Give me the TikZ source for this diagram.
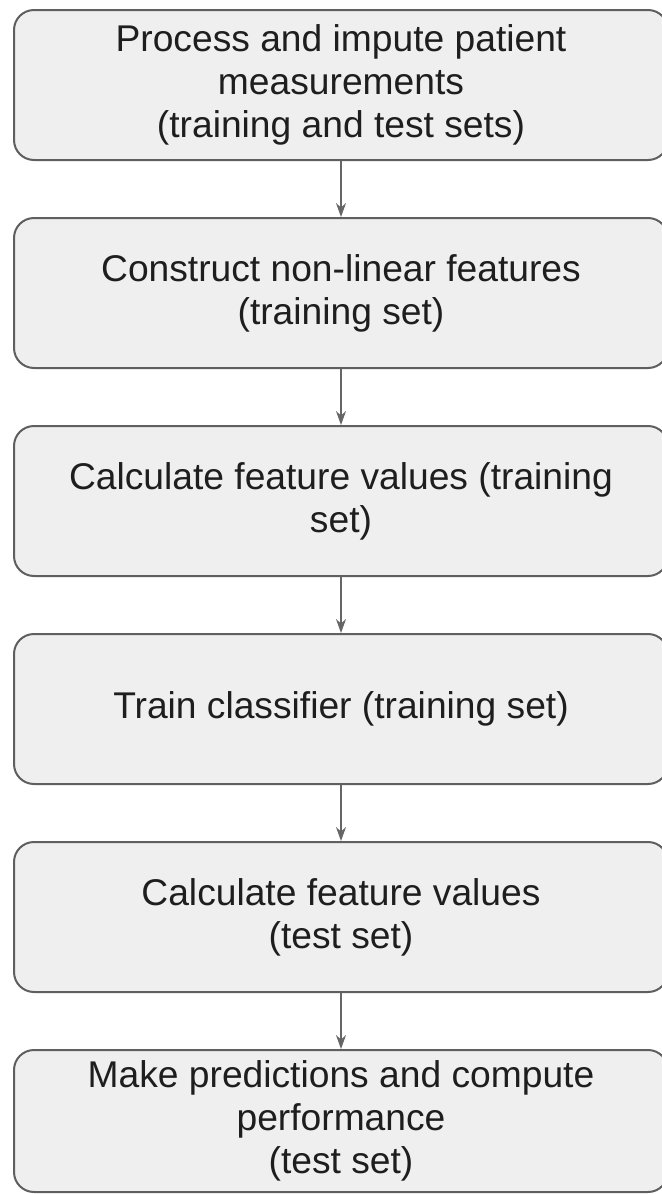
\documentclass[tikz,border=0pt]{standalone}
\usepackage{fontspec}
\setmainfont{Liberation Sans}
\usetikzlibrary{arrows.meta}
\definecolor{boxfill}{HTML}{EFEFEF}
\definecolor{boxline}{HTML}{5F5F5F}
\definecolor{arrowline}{HTML}{666666}
\definecolor{textcol}{HTML}{1E1E1E}

\begin{document}
\begin{tikzpicture}[x=0.5pt,y=-0.5pt,
  stagebox/.style={draw=boxline,fill=boxfill,line width=1pt,rounded corners=10pt,
    minimum width=327pt,minimum height=75pt,align=center,text=textcol,
    font=\fontsize{18.6}{21.5}\selectfont,inner sep=0pt},
  flow/.style={draw=arrowline,line width=0.6pt,-{Stealth[length=7pt,width=5pt]}}]
\useasboundingbox (0,0) rectangle (661,1194);

\node[stagebox] (process) at (341,85) {Process and impute patient\\measurements\\(training and test sets)};
\node[stagebox] (construct) at (341,293) {Construct non-linear features\\(training set)};
\node[stagebox] (calctrain) at (341,501) {Calculate feature values (training\\set)};
\node[stagebox] (train) at (341,709) {Train classifier (training set)};
\node[stagebox] (calctest) at (341,917) {Calculate feature values\\(test set)};
\node[stagebox,minimum height=71pt] (predict) at (341,1121) {Make predictions and compute\\performance\\(test set)};

% arrows between stages
\draw[flow] (process) -- (construct);
\draw[flow] (construct) -- (calctrain);
\draw[flow] (calctrain) -- (train);
\draw[flow] (train) -- (calctest);
\draw[flow] (calctest) -- (predict);
\end{tikzpicture}
\end{document}
